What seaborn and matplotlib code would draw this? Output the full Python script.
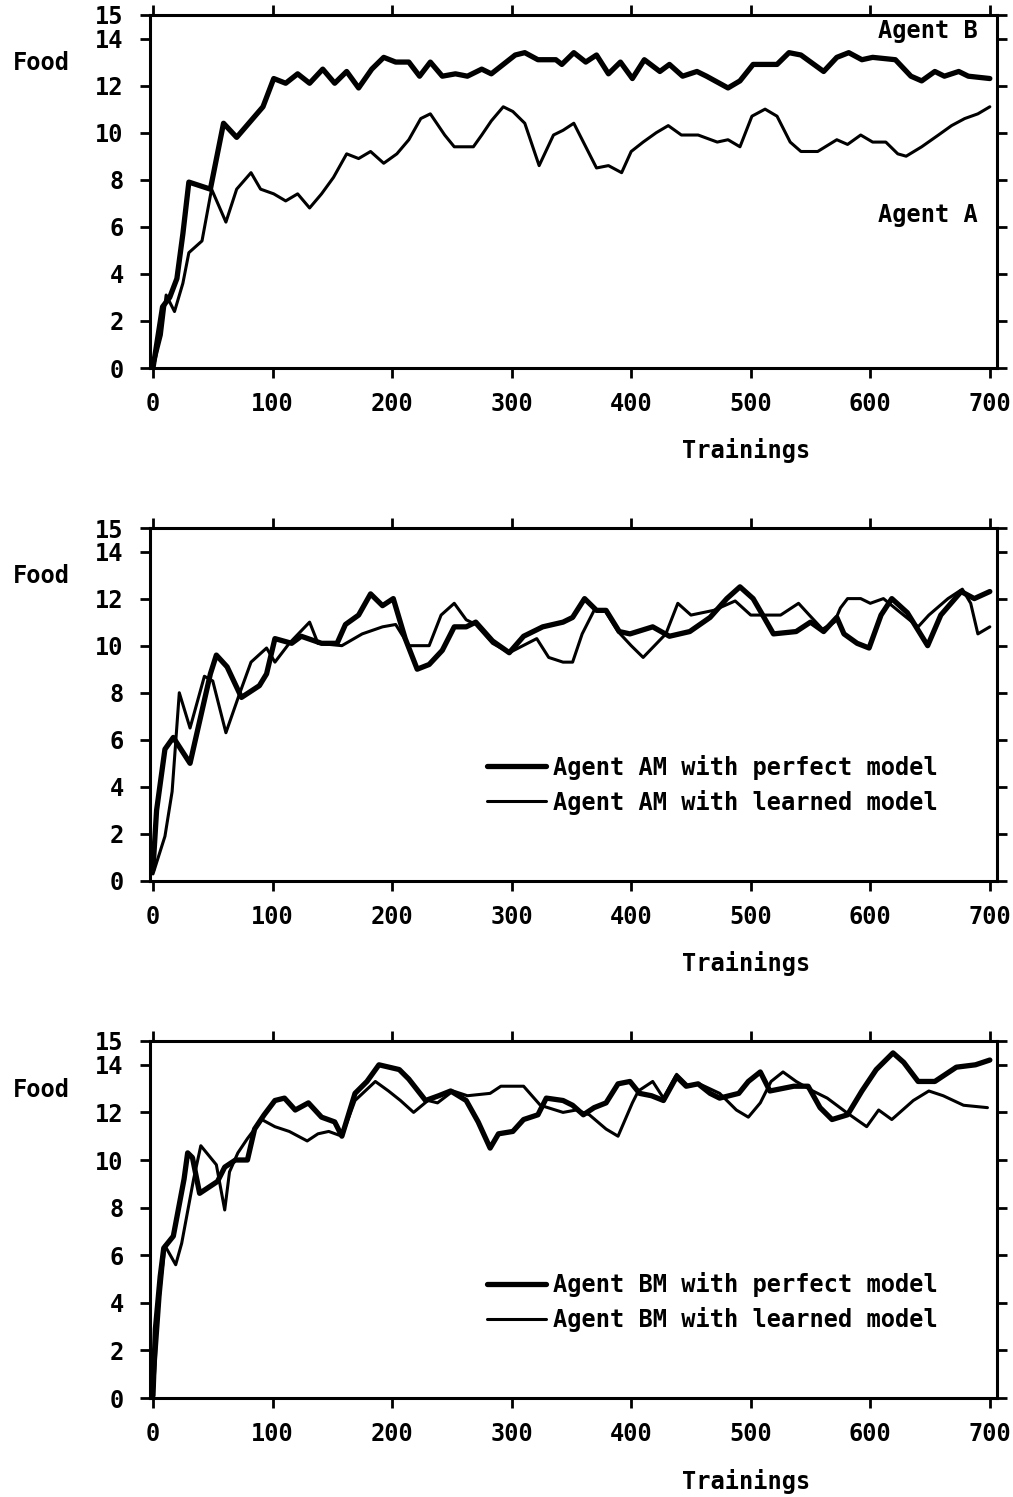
import matplotlib
matplotlib.use("Agg")
import matplotlib.pyplot as plt
import seaborn as sns
import pandas as pd

# --- panel 1: Agent A / Agent B ---
b1_x = [0, 8, 14, 20, 25, 30, 48, 59, 70, 92, 101, 111, 121, 131, 142, 152, 162, 172, 183, 193, 203,
        214, 223, 232, 242, 253, 263, 275, 283, 293, 303, 311, 322, 337, 342, 352, 362, 371, 381, 391,
        401, 411, 424, 432, 443, 455, 463, 481, 491, 502, 522, 532, 542, 561, 572, 582, 593, 602, 621,
        634, 643, 654, 662, 674, 682, 700]
b1_y = [0, 2.6, 3.0, 3.8, 5.7, 7.9, 7.6, 10.4, 9.8, 11.1, 12.3, 12.1, 12.5, 12.1, 12.7, 12.1, 12.6,
        11.9, 12.7, 13.2, 13.0, 13.0, 12.4, 13.0, 12.4, 12.5, 12.4, 12.7, 12.5, 12.9, 13.3, 13.4, 13.1,
        13.1, 12.9, 13.4, 13.0, 13.3, 12.5, 13.0, 12.3, 13.1, 12.6, 12.9, 12.4, 12.6, 12.4, 11.9, 12.2,
        12.9, 12.9, 13.4, 13.3, 12.6, 13.2, 13.4, 13.1, 13.2, 13.1, 12.4, 12.2, 12.6, 12.4, 12.6, 12.4,
        12.3]
a1_x = [0, 7, 11, 18, 25, 30, 41, 49, 61, 70, 82, 90, 101, 111, 121, 131, 141, 151, 162, 172, 182,
        193, 204, 214, 224, 232, 244, 252, 268, 275, 283, 293, 301, 311, 323, 335, 343, 352, 361, 371,
        381, 392, 400, 410, 421, 431, 442, 456, 472, 481, 491, 501, 512, 522, 533, 542, 556, 572, 581,
        592, 602, 613, 623, 630, 643, 657, 668, 679, 690, 700]
a1_y = [0, 1.4, 3.1, 2.4, 3.6, 4.9, 5.4, 7.6, 6.2, 7.6, 8.3, 7.6, 7.4, 7.1, 7.4, 6.8, 7.4, 8.1, 9.1,
        8.9, 9.2, 8.7, 9.1, 9.7, 10.6, 10.8, 9.9, 9.4, 9.4, 9.9, 10.5, 11.1, 10.9, 10.4, 8.6, 9.9, 10.1,
        10.4, 9.5, 8.5, 8.6, 8.3, 9.2, 9.6, 10.0, 10.3, 9.9, 9.9, 9.6, 9.7, 9.4, 10.7, 11.0, 10.7, 9.6,
        9.2, 9.2, 9.7, 9.5, 9.9, 9.6, 9.6, 9.1, 9.0, 9.4, 9.9, 10.3, 10.6, 10.8, 11.1]

# --- panel 2: Agent AM ---
amp_x = [0, 3, 10, 17, 31, 48, 53, 62, 74, 89, 95, 102, 116, 124, 141, 154, 161, 172, 182, 192, 201,
         211, 221, 231, 242, 252, 262, 270, 284, 298, 310, 326, 343, 351, 361, 371, 379, 390, 399, 418,
         432, 449, 466, 480, 491, 502, 510, 519, 538, 550, 561, 572, 578, 589, 599, 609, 618, 631, 648,
         659, 676, 687, 700]
amp_y = [0.5, 3.0, 5.6, 6.1, 5.0, 8.8, 9.6, 9.1, 7.8, 8.3, 8.8, 10.3, 10.1, 10.4, 10.1, 10.1, 10.9,
         11.3, 12.2, 11.7, 12.0, 10.3, 9.0, 9.2, 9.8, 10.8, 10.8, 11.0, 10.2, 9.7, 10.4, 10.8, 11.0, 11.2,
         12.0, 11.5, 11.5, 10.6, 10.5, 10.8, 10.4, 10.6, 11.2, 12.0, 12.5, 12.0, 11.3, 10.5, 10.6, 11.0,
         10.6, 11.2, 10.5, 10.1, 9.9, 11.3, 12.0, 11.4, 10.0, 11.3, 12.3, 12.0, 12.3]
aml_x = [0, 10, 16, 22, 31, 43, 50, 61, 72, 82, 95, 102, 114, 131, 138, 158, 175, 192, 203, 214, 231,
         241, 252, 262, 270, 284, 298, 321, 331, 343, 351, 359, 369, 378, 389, 400, 410, 429, 439, 450,
         469, 487, 500, 514, 525, 540, 549, 560, 570, 575, 581, 592, 600, 611, 623, 640, 649, 665, 677,
         684, 690, 700]
aml_y = [0.3, 1.9, 3.8, 8.0, 6.5, 8.7, 8.5, 6.3, 7.9, 9.3, 9.9, 9.3, 10.1, 11.0, 10.1, 10.0, 10.5,
         10.8, 10.9, 10.0, 10.0, 11.3, 11.8, 11.1, 10.9, 10.1, 9.7, 10.3, 9.5, 9.3, 9.3, 10.5, 11.5, 11.5,
         10.6, 10.0, 9.5, 10.5, 11.8, 11.3, 11.5, 11.9, 11.3, 11.3, 11.3, 11.8, 11.3, 10.7, 11.0, 11.6,
         12.0, 12.0, 11.8, 12.0, 11.5, 10.8, 11.3, 12.0, 12.4, 11.8, 10.5, 10.8]

# --- panel 3: Agent BM ---
bmp_x = [0, 2, 6, 9, 17, 26, 29, 33, 39, 54, 60, 69, 79, 85, 93, 102, 110, 119, 130, 141, 152, 158,
         169, 179, 189, 206, 214, 228, 239, 249, 262, 272, 282, 289, 301, 310, 322, 329, 343, 351, 360,
         369, 379, 389, 399, 407, 417, 427, 438, 446, 456, 466, 474, 490, 498, 508, 516, 536, 548, 558,
         568, 581, 593, 605, 619, 628, 640, 654, 672, 688, 700]
bmp_y = [0.1, 2.9, 5.1, 6.3, 6.8, 9.2, 10.3, 10.1, 8.6, 9.1, 9.7, 10.0, 10.0, 11.3, 11.9, 12.5, 12.6,
         12.1, 12.4, 11.8, 11.6, 11.0, 12.8, 13.3, 14.0, 13.8, 13.4, 12.5, 12.7, 12.9, 12.5, 11.6, 10.5,
         11.1, 11.2, 11.7, 11.9, 12.6, 12.5, 12.3, 11.9, 12.2, 12.4, 13.2, 13.3, 12.8, 12.7, 12.5, 13.5,
         13.1, 13.2, 12.8, 12.6, 12.8, 13.3, 13.7, 12.9, 13.1, 13.1, 12.2, 11.7, 11.9, 12.9, 13.8, 14.5,
         14.1, 13.3, 13.3, 13.9, 14.0, 14.2]
bml_x = [0, 6, 10, 19, 24, 34, 40, 53, 60, 64, 71, 79, 91, 102, 114, 129, 138, 147, 158, 169, 186,
         197, 207, 218, 230, 238, 251, 263, 282, 291, 310, 324, 343, 354, 365, 379, 389, 401, 406, 418,
         427, 438, 448, 457, 474, 488, 498, 508, 517, 527, 538, 552, 564, 580, 597, 607, 618, 636, 649,
         661, 678, 698]
bml_y = [0.1, 4.3, 6.4, 5.6, 6.5, 9.2, 10.6, 9.8, 7.9, 9.5, 10.3, 10.9, 11.7, 11.4, 11.2, 10.8, 11.1,
         11.2, 11.0, 12.5, 13.3, 12.9, 12.5, 12.0, 12.5, 12.4, 12.9, 12.7, 12.8, 13.1, 13.1, 12.3, 12.0,
         12.1, 11.9, 11.3, 11.0, 12.4, 12.9, 13.3, 12.6, 13.6, 13.1, 13.2, 12.8, 12.1, 11.8, 12.4, 13.3,
         13.7, 13.3, 12.9, 12.6, 12.0, 11.4, 12.1, 11.7, 12.5, 12.9, 12.7, 12.3, 12.2]

x_ticks = [0, 100, 200, 300, 400, 500, 600, 700]
y_ticks = [0, 2, 4, 6, 8, 10, 12, 14, 15]

sns.set_style("ticks")
plt.rcParams["font.family"] = ["DejaVu Sans Mono"]
plt.rcParams["font.weight"] = "bold"
plt.rcParams["text.color"] = "black"
plt.rcParams["xtick.color"] = "black"
plt.rcParams["ytick.color"] = "black"
FS = 17
THICK = 3.8
THIN = 2.2

fig = plt.figure(figsize=(10.13, 14.97), dpi=100)


def make_axes(top, bottom):
    return fig.add_axes([150 / 1013, 1 - bottom / 1497, 847 / 1013, (bottom - top) / 1497])


def style_axes(ax):
    ax.set_xlim(-2.5, 706)
    ax.set_ylim(0, 15)
    ax.set_xticks(x_ticks)
    ax.set_yticks(y_ticks)
    ax.tick_params(direction="out", length=7, width=2, top=True, right=True,
                   labelsize=FS, labeltop=False, labelright=False)
    ax.tick_params(axis="x", pad=10)
    ax.tick_params(axis="y", pad=12)
    for s in ax.spines.values():
        s.set_visible(True)
        s.set_linewidth(2.2)
        s.set_color("black")
    ax.set_xlabel("")
    ax.set_ylabel("")
    ax.text(-0.128, 0.864, "Food", transform=ax.transAxes, ha="center", va="center", fontsize=FS)
    ax.text(0.704, -0.235, "Trainings", transform=ax.transAxes, ha="center", va="center", fontsize=FS)


def draw(ax, xs, ys, lw, label=None):
    df = pd.DataFrame({"Trainings": xs, "Food": ys})
    sns.lineplot(data=df, x="Trainings", y="Food", ax=ax, color="black", linewidth=lw,
                 estimator=None, sort=False, label=label, legend=label is not None)


# panel 1
ax1 = make_axes(15, 368)
draw(ax1, a1_x, a1_y, THIN)
draw(ax1, b1_x, b1_y, THICK)
style_axes(ax1)
ax1.text(648, 14.3, "Agent B", ha="center", va="center", fontsize=FS)
ax1.text(648, 6.5, "Agent A", ha="center", va="center", fontsize=FS)

# panel 2
ax2 = make_axes(528, 881)
draw(ax2, amp_x, amp_y, THICK, "Agent AM with perfect model")
draw(ax2, aml_x, aml_y, THIN, "Agent AM with learned model")
style_axes(ax2)
ax2.legend(loc="upper left", bbox_to_anchor=(0.398, 0.358), frameon=False, handlelength=2.5,
           handletextpad=0.3, labelspacing=0.42, borderpad=0, borderaxespad=0, fontsize=FS)

# panel 3
ax3 = make_axes(1041, 1398)
draw(ax3, bmp_x, bmp_y, THICK, "Agent BM with perfect model")
draw(ax3, bml_x, bml_y, THIN, "Agent BM with learned model")
style_axes(ax3)
ax3.legend(loc="upper left", bbox_to_anchor=(0.398, 0.352), frameon=False, handlelength=2.5,
           handletextpad=0.3, labelspacing=0.42, borderpad=0, borderaxespad=0, fontsize=FS)

fig.savefig("out.png", dpi=100)
plt.close(fig)
